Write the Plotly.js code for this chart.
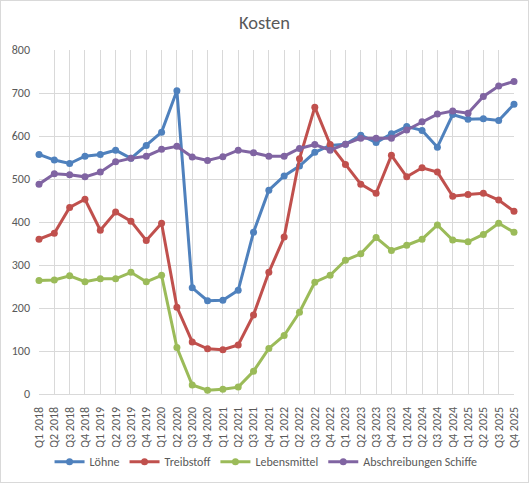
<!DOCTYPE html>
<html>
<head>
<meta charset="utf-8">
<script src="https://cdn.plot.ly/plotly-3.0.1.min.js"></script>
<style>
  html, body { margin: 0; padding: 0; background: #fff; }
  #wrap { position: relative; width: 529px; height: 483px; }
  #chart { width: 529px; height: 483px; }
  #border { position: absolute; left: 0; top: 0; width: 527px; height: 481px; border: 1px solid #d9d9d9; pointer-events: none; }
</style>
</head>
<body>
<div id="wrap"><div id="chart"></div><div id="border"></div></div>
<script>
const quarters = ["Q1 2018","Q2 2018","Q3 2018","Q4 2018","Q1 2019","Q2 2019","Q3 2019","Q4 2019",
  "Q1 2020","Q2 2020","Q3 2020","Q4 2020","Q1 2021","Q2 2021","Q3 2021","Q4 2021",
  "Q1 2022","Q2 2022","Q3 2022","Q4 2022","Q1 2023","Q2 2023","Q3 2023","Q4 2023",
  "Q1 2024","Q2 2024","Q3 2024","Q4 2024","Q1 2025","Q2 2025","Q3 2025","Q4 2025"];

const loehne = [557,544,536,553,557,567,548,578,609,705,247,217,218,241,376,474,
  507,530,562,578,581,602,585,605,622,613,574,650,639,640,636,674];
const treibstoff = [360,374,434,453,381,423,402,357,397,202,121,105,103,114,184,283,
  365,547,667,580,534,488,467,555,505,526,516,460,464,467,451,425];
const lebensmittel = [264,265,275,261,268,268,283,261,276,108,21,9,11,16,53,106,
  136,190,260,276,311,326,364,334,346,360,393,358,354,371,397,376];
const abschreibungen = [488,512,510,505,516,540,548,553,569,576,551,543,552,567,561,553,
  553,571,580,567,581,595,595,595,614,633,651,658,653,692,716,727];

const seriesNames = ["Löhne","Treibstoff","Lebensmittel","Abschreibungen Schiffe"];
const seriesColors = ["#4F81BD","#C0504D","#9BBB59","#8064A2"];
const seriesData = [loehne, treibstoff, lebensmittel, abschreibungen];

const traces = seriesData.map((d, i) => ({
  x: quarters,
  y: d,
  name: seriesNames[i],
  type: "scatter",
  mode: "lines+markers",
  line: { color: seriesColors[i], width: 3 },
  marker: { color: seriesColors[i], size: 7 },
  cliponaxis: false
}));

const font = "Calibri, Carlito, 'Liberation Sans', Arial, sans-serif";
const layout = {
  width: 529, height: 483,
  margin: { l: 39, r: 15, t: 50, b: 89 },
  paper_bgcolor: "#ffffff",
  plot_bgcolor: "#ffffff",
  font: { family: font, color: "#595959", size: 12 },
  title: { text: "Kosten", font: { family: font, size: 18.5, color: "#595959" }, x: 0.5, xanchor: "center", y: 0.953, yanchor: "middle" },
  showlegend: true,
  legend: { orientation: "h", xref: "paper", x: 0.478, xanchor: "center",
            yref: "container", y: 0.044, yanchor: "middle",
            font: { family: font, size: 12, color: "#595959" }, itemwidth: 30, traceorder: "normal" },
  xaxis: {
    type: "category",
    range: [0, quarters.length - 1],
    tickangle: -90,
    automargin: false,
    showgrid: true, gridcolor: "#d9d9d9", gridwidth: 1,
    showline: true, linecolor: "#d9d9d9", linewidth: 1,
    ticks: "", zeroline: false,
    ticklabelstandoff: 7,
    tickfont: { family: font, size: 12, color: "#595959" },
    fixedrange: true
  },
  yaxis: {
    range: [0, 800], dtick: 100, tick0: 0,
    automargin: false,
    showgrid: true, gridcolor: "#d9d9d9", gridwidth: 1,
    showline: false, zeroline: false, ticks: "",
    tickfont: { family: font, size: 12, color: "#595959" },
    ticklabelstandoff: 8,
    fixedrange: true
  }
};

Plotly.newPlot("chart", traces, layout, { displayModeBar: false, staticPlot: true });
</script>
</body>
</html>
